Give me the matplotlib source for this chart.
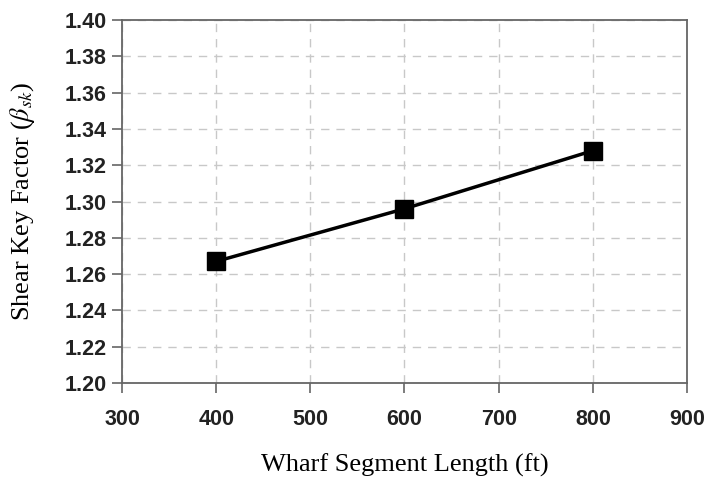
import matplotlib
matplotlib.use('Agg')
import matplotlib.pyplot as plt

# data
length_ft = [400, 600, 800]
shear_key_factor = [1.267, 1.296, 1.328]

x_ticks = [300, 400, 500, 600, 700, 800, 900]
y_ticks = [1.20, 1.22, 1.24, 1.26, 1.28, 1.30, 1.32, 1.34, 1.36, 1.38, 1.40]

plt.rcParams['mathtext.fontset'] = 'stix'

fig = plt.figure(figsize=(7.07, 4.83), dpi=100)
ax = fig.add_axes([122 / 707, 1 - 383 / 483, (687 - 122) / 707, (383 - 20) / 483])

ax.plot(length_ft, shear_key_factor, color='black', linewidth=2.5,
        marker='s', markersize=13.5, markerfacecolor='black', markeredgecolor='black',
        zorder=3)

ax.set_xlim(300, 900)
ax.set_ylim(1.20, 1.40)
ax.set_xticks(x_ticks)
ax.set_yticks(y_ticks)
ax.set_xticklabels([str(t) for t in x_ticks])
ax.set_yticklabels(['%.2f' % t for t in y_ticks])

for lbl in ax.get_xticklabels() + ax.get_yticklabels():
    lbl.set_fontfamily('Liberation Sans')
    lbl.set_fontweight('bold')
    lbl.set_fontsize(15.5)
    lbl.set_color('#222222')

ax.grid(True, linestyle=(0, (6, 5)), color='#c8c8c8', linewidth=1.0)
ax.set_axisbelow(True)

for sp in ax.spines.values():
    sp.set_color('#666666')
    sp.set_linewidth(1.3)

ax.tick_params(direction='out', length=7, width=1.2, color='#666666', pad=4)
ax.tick_params(axis='x', pad=12)

ax.set_xlabel('Wharf Segment Length (ft)', family='Liberation Serif', fontsize=19, labelpad=17)
ax.set_ylabel(r'Shear Key Factor ($\beta_{sk}$)', family='Liberation Serif', fontsize=19, labelpad=20)

fig.savefig('out.png', dpi=100)
